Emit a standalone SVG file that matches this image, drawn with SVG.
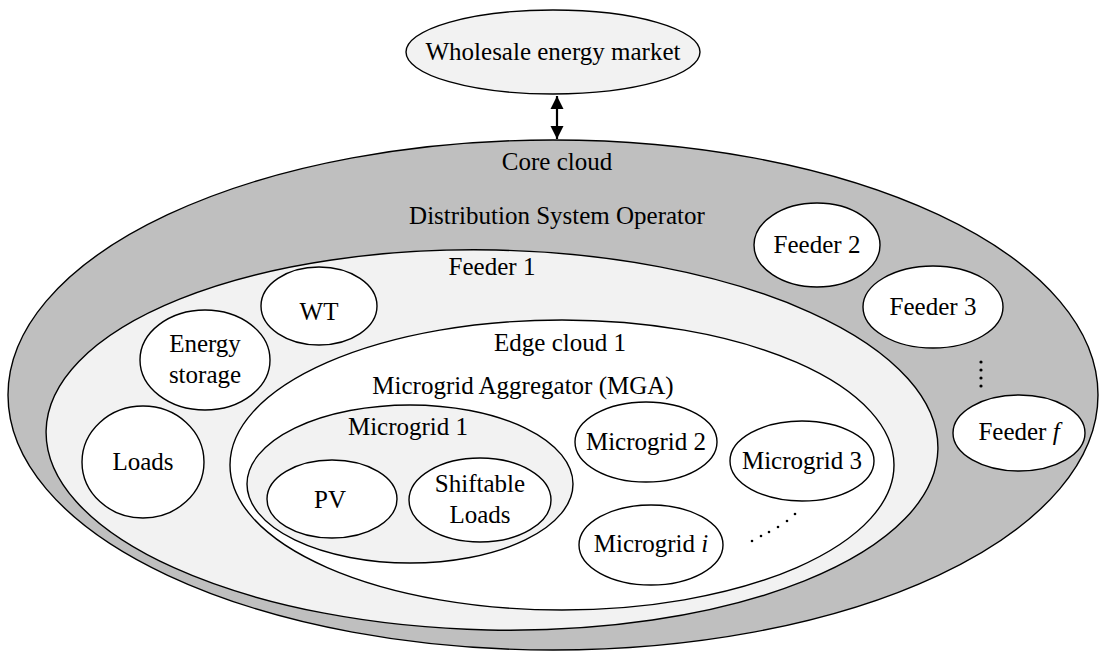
<svg xmlns="http://www.w3.org/2000/svg" width="1099" height="652" viewBox="0 0 1099 652" font-family="'Liberation Serif', 'Times New Roman', serif">
<style>
.s{stroke:#000;stroke-width:1.4}
.g{fill:#bfbfbf}
.l{fill:#f2f2f2}
.w{fill:#fff}
.t{font-family:'Liberation Serif','Times New Roman',serif;font-size:25px;fill:#000;text-anchor:middle}
.i{font-style:italic}
</style>
<defs>
<marker id="ah" viewBox="0 0 10 10" refX="10" refY="5" markerWidth="6" markerHeight="6" orient="auto-start-reverse" markerUnits="strokeWidth">
<path d="M0,0 L10,5 L0,10 Z" fill="#000"/>
</marker>
</defs>
<rect width="1099" height="652" fill="#fff"/>
<g id="core-cloud">
<ellipse class="s g" cx="553" cy="395" rx="545" ry="255"/>
<text class="t" x="557" y="170">Core cloud</text>
<text class="t" x="557" y="224">Distribution System Operator</text>
</g>
<g id="market">
<ellipse class="s l" cx="553" cy="52" rx="147" ry="42"/>
<text class="t" x="553" y="60">Wholesale energy market</text>
</g>
<g id="connectors">
<line x1="557" y1="96" x2="557" y2="139" stroke="#000" stroke-width="2.2" marker-start="url(#ah)" marker-end="url(#ah)"/>
</g>
<g id="feeder2">
<ellipse class="s w" cx="817" cy="245" rx="63" ry="42"/>
<text class="t" x="817" y="253">Feeder 2</text>
</g>
<g id="feeder3">
<ellipse class="s w" cx="933" cy="307" rx="70" ry="41"/>
<text class="t" x="933" y="315">Feeder 3</text>
</g>
<g id="feeder-dots">
<circle cx="981" cy="362" r="1.6"/>
<circle cx="981" cy="370" r="1.6"/>
<circle cx="981" cy="378" r="1.6"/>
<circle cx="981" cy="386" r="1.6"/>
</g>
<g id="feederf">
<ellipse class="s w" cx="1019" cy="433" rx="66" ry="38"/>
<text class="t" x="1019" y="440">Feeder <tspan class="i">f</tspan></text>
</g>
<g id="feeder1">
<ellipse class="s l" cx="492" cy="440" rx="446" ry="190" transform="rotate(1.2 492 440)"/>
<text class="t" x="492" y="275">Feeder 1</text>
</g>
<g id="wt">
<ellipse class="s w" cx="319" cy="306" rx="58" ry="39"/>
<text class="t" x="319" y="320">WT</text>
</g>
<g id="energy-storage">
<ellipse class="s w" cx="205" cy="360" rx="65" ry="50"/>
<text class="t" x="205" y="352">Energy</text>
<text class="t" x="205" y="383">storage</text>
</g>
<g id="loads">
<ellipse class="s w" cx="143" cy="462" rx="61" ry="56"/>
<text class="t" x="143" y="470">Loads</text>
</g>
<g id="edge-cloud">
<ellipse class="s w" cx="562" cy="465" rx="332" ry="145"/>
<text class="t" x="560" y="351">Edge cloud 1</text>
<text class="t" x="523" y="394">Microgrid Aggregator (MGA)</text>
</g>
<g id="microgrid1">
<ellipse class="s l" cx="410" cy="484" rx="163" ry="79"/>
<text class="t" x="408" y="435">Microgrid 1</text>
</g>
<g id="pv">
<ellipse class="s w" cx="332" cy="499" rx="65" ry="39"/>
<text class="t" x="330" y="508">PV</text>
</g>
<g id="shiftable">
<ellipse class="s w" cx="480" cy="500" rx="71" ry="42"/>
<text class="t" x="480" y="492">Shiftable</text>
<text class="t" x="480" y="523">Loads</text>
</g>
<g id="microgrid2">
<ellipse class="s w" cx="646" cy="442" rx="71" ry="40"/>
<text class="t" x="646" y="450">Microgrid 2</text>
</g>
<g id="microgrid3">
<ellipse class="s w" cx="802" cy="461" rx="72" ry="40"/>
<text class="t" x="802" y="469">Microgrid 3</text>
</g>
<g id="microgridi">
<ellipse class="s w" cx="651" cy="545" rx="72" ry="40"/>
<text class="t" x="651" y="552">Microgrid <tspan class="i">i</tspan></text>
</g>
<g id="microgrid-dots">
<circle cx="752" cy="541" r="1.3"/>
<circle cx="761" cy="536" r="1.3"/>
<circle cx="769" cy="532" r="1.3"/>
<circle cx="778" cy="527" r="1.3"/>
<circle cx="787" cy="521" r="1.3"/>
<circle cx="795" cy="514" r="1.3"/>
</g>
</svg>
